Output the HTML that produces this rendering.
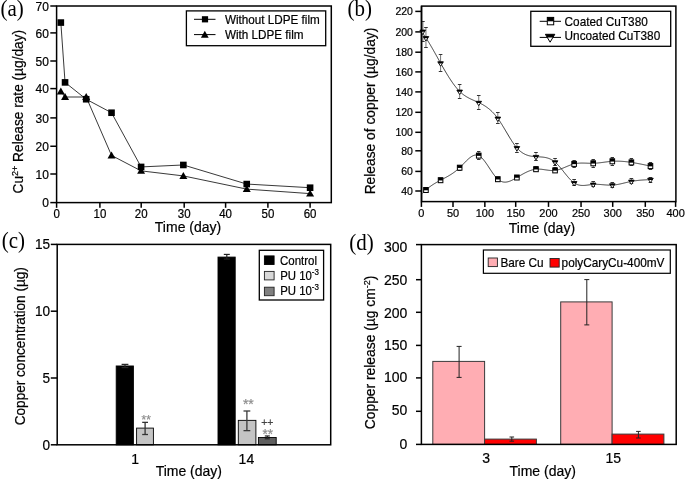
<!DOCTYPE html>
<html><head><meta charset="utf-8"><style>
html,body{margin:0;padding:0;background:#fff;}
body{width:685px;height:480px;overflow:hidden;}
svg{display:block;will-change:transform;}
text{font-family:"Liberation Sans",sans-serif;}
</style></head><body>
<svg width="685" height="480" viewBox="0 0 685 480">
<rect width="685" height="480" fill="#fff"/>
<text transform="translate(0.40,15.80) scale(1,1.07)" x="0" y="0" font-size="21" style="font-family:'Liberation Serif',serif">(a)</text>
<rect x="56.60" y="6.00" width="274.70" height="196.60" fill="none" stroke="#000" stroke-width="1.5" />
<line x1="50.30" y1="202.60" x2="56.60" y2="202.60" stroke="#000" stroke-width="1.5" />
<text transform="translate(48.80,207.20) scale(1,1.06)" x="0" y="0" font-size="12" text-anchor="end" font-family="Liberation Sans, sans-serif" fill="#000" stroke="#000" stroke-width="0.2" >0</text>
<line x1="50.30" y1="174.00" x2="56.60" y2="174.00" stroke="#000" stroke-width="1.5" />
<text transform="translate(48.80,178.60) scale(1,1.06)" x="0" y="0" font-size="12" text-anchor="end" font-family="Liberation Sans, sans-serif" fill="#000" stroke="#000" stroke-width="0.2" >10</text>
<line x1="50.30" y1="146.25" x2="56.60" y2="146.25" stroke="#000" stroke-width="1.5" />
<text transform="translate(48.80,150.85) scale(1,1.06)" x="0" y="0" font-size="12" text-anchor="end" font-family="Liberation Sans, sans-serif" fill="#000" stroke="#000" stroke-width="0.2" >20</text>
<line x1="50.30" y1="117.90" x2="56.60" y2="117.90" stroke="#000" stroke-width="1.5" />
<text transform="translate(48.80,122.50) scale(1,1.06)" x="0" y="0" font-size="12" text-anchor="end" font-family="Liberation Sans, sans-serif" fill="#000" stroke="#000" stroke-width="0.2" >30</text>
<line x1="50.30" y1="88.60" x2="56.60" y2="88.60" stroke="#000" stroke-width="1.5" />
<text transform="translate(48.80,93.20) scale(1,1.06)" x="0" y="0" font-size="12" text-anchor="end" font-family="Liberation Sans, sans-serif" fill="#000" stroke="#000" stroke-width="0.2" >40</text>
<line x1="50.30" y1="61.00" x2="56.60" y2="61.00" stroke="#000" stroke-width="1.5" />
<text transform="translate(48.80,65.60) scale(1,1.06)" x="0" y="0" font-size="12" text-anchor="end" font-family="Liberation Sans, sans-serif" fill="#000" stroke="#000" stroke-width="0.2" >50</text>
<line x1="50.30" y1="32.90" x2="56.60" y2="32.90" stroke="#000" stroke-width="1.5" />
<text transform="translate(48.80,37.50) scale(1,1.06)" x="0" y="0" font-size="12" text-anchor="end" font-family="Liberation Sans, sans-serif" fill="#000" stroke="#000" stroke-width="0.2" >60</text>
<line x1="50.30" y1="6.00" x2="56.60" y2="6.00" stroke="#000" stroke-width="1.5" />
<text transform="translate(48.80,10.60) scale(1,1.06)" x="0" y="0" font-size="12" text-anchor="end" font-family="Liberation Sans, sans-serif" fill="#000" stroke="#000" stroke-width="0.2" >70</text>
<line x1="56.60" y1="202.60" x2="56.60" y2="207.80" stroke="#000" stroke-width="1.5" />
<text transform="translate(56.60,217.60) scale(1,1.06)" x="0" y="0" font-size="11.5" text-anchor="middle" font-family="Liberation Sans, sans-serif" fill="#000" stroke="#000" stroke-width="0.2" >0</text>
<line x1="99.90" y1="202.60" x2="99.90" y2="207.80" stroke="#000" stroke-width="1.5" />
<text transform="translate(99.90,217.60) scale(1,1.06)" x="0" y="0" font-size="11.5" text-anchor="middle" font-family="Liberation Sans, sans-serif" fill="#000" stroke="#000" stroke-width="0.2" >10</text>
<line x1="141.20" y1="202.60" x2="141.20" y2="207.80" stroke="#000" stroke-width="1.5" />
<text transform="translate(141.20,217.60) scale(1,1.06)" x="0" y="0" font-size="11.5" text-anchor="middle" font-family="Liberation Sans, sans-serif" fill="#000" stroke="#000" stroke-width="0.2" >20</text>
<line x1="184.20" y1="202.60" x2="184.20" y2="207.80" stroke="#000" stroke-width="1.5" />
<text transform="translate(184.20,217.60) scale(1,1.06)" x="0" y="0" font-size="11.5" text-anchor="middle" font-family="Liberation Sans, sans-serif" fill="#000" stroke="#000" stroke-width="0.2" >30</text>
<line x1="225.60" y1="202.60" x2="225.60" y2="207.80" stroke="#000" stroke-width="1.5" />
<text transform="translate(225.60,217.60) scale(1,1.06)" x="0" y="0" font-size="11.5" text-anchor="middle" font-family="Liberation Sans, sans-serif" fill="#000" stroke="#000" stroke-width="0.2" >40</text>
<line x1="267.90" y1="202.60" x2="267.90" y2="207.80" stroke="#000" stroke-width="1.5" />
<text transform="translate(267.90,217.60) scale(1,1.06)" x="0" y="0" font-size="11.5" text-anchor="middle" font-family="Liberation Sans, sans-serif" fill="#000" stroke="#000" stroke-width="0.2" >50</text>
<line x1="310.10" y1="202.60" x2="310.10" y2="207.80" stroke="#000" stroke-width="1.5" />
<text transform="translate(310.10,217.60) scale(1,1.06)" x="0" y="0" font-size="11.5" text-anchor="middle" font-family="Liberation Sans, sans-serif" fill="#000" stroke="#000" stroke-width="0.2" >60</text>
<text transform="translate(188.00,231.80) scale(1,1.02)" x="0" y="0" font-size="14" text-anchor="middle" font-family="Liberation Sans, sans-serif" fill="#000" stroke="#000" stroke-width="0.2" >Time (day)</text>
<text transform="translate(22.90,111.70) rotate(-90) scale(1,1.06)" x="0" y="0" font-size="13.7" text-anchor="middle" font-family="Liberation Sans, sans-serif" fill="#000" stroke="#000" stroke-width="0.2" >Cu<tspan font-size="9" dy="-5">2+</tspan><tspan dy="5"> Release rate (µg/day)</tspan></text>
<polyline points="60.83,22.57 65.05,82.39 86.18,99.24 111.53,112.73 141.10,166.93 183.35,164.97 246.73,184.06 310.10,187.71" fill="none" stroke="#222" stroke-width="0.9"/>
<polyline points="60.83,91.38 65.05,97.00 86.18,97.00 111.53,155.42 141.10,170.86 183.35,175.92 246.73,189.12 310.10,193.61" fill="none" stroke="#222" stroke-width="0.9"/>
<rect x="57.53" y="19.27" width="6.60" height="6.60" fill="#000" stroke="none" stroke-width="0" />
<rect x="61.75" y="79.09" width="6.60" height="6.60" fill="#000" stroke="none" stroke-width="0" />
<rect x="82.88" y="95.94" width="6.60" height="6.60" fill="#000" stroke="none" stroke-width="0" />
<rect x="108.23" y="109.43" width="6.60" height="6.60" fill="#000" stroke="none" stroke-width="0" />
<rect x="137.80" y="163.63" width="6.60" height="6.60" fill="#000" stroke="none" stroke-width="0" />
<rect x="180.05" y="161.67" width="6.60" height="6.60" fill="#000" stroke="none" stroke-width="0" />
<rect x="243.43" y="180.76" width="6.60" height="6.60" fill="#000" stroke="none" stroke-width="0" />
<rect x="306.80" y="184.41" width="6.60" height="6.60" fill="#000" stroke="none" stroke-width="0" />
<path d="M56.83,94.38 L64.83,94.38 L60.83,87.48 Z" fill="#000"/>
<path d="M61.05,100.00 L69.05,100.00 L65.05,93.10 Z" fill="#000"/>
<path d="M82.18,100.00 L90.18,100.00 L86.18,93.10 Z" fill="#000"/>
<path d="M107.53,158.42 L115.53,158.42 L111.53,151.52 Z" fill="#000"/>
<path d="M137.10,173.86 L145.10,173.86 L141.10,166.96 Z" fill="#000"/>
<path d="M179.35,178.92 L187.35,178.92 L183.35,172.02 Z" fill="#000"/>
<path d="M242.73,192.12 L250.73,192.12 L246.73,185.22 Z" fill="#000"/>
<path d="M306.10,196.61 L314.10,196.61 L310.10,189.71 Z" fill="#000"/>
<rect x="186.40" y="10.90" width="139.30" height="34.80" fill="none" stroke="#000" stroke-width="1.3" />
<line x1="194.00" y1="19.30" x2="215.50" y2="19.30" stroke="#000" stroke-width="1.0" />
<rect x="201.90" y="16.20" width="6.20" height="6.20" fill="#000" stroke="none" stroke-width="0" />
<line x1="194.00" y1="34.60" x2="215.50" y2="34.60" stroke="#000" stroke-width="1.0" />
<path d="M200.90,37.75 L208.70,37.75 L204.80,30.65 Z" fill="#000"/>
<text transform="translate(224.90,23.60) scale(1,1.06)" x="0" y="0" font-size="11.7" text-anchor="start" font-family="Liberation Sans, sans-serif" fill="#000" stroke="#000" stroke-width="0.2" >Without LDPE film</text>
<text transform="translate(224.90,38.90) scale(1,1.06)" x="0" y="0" font-size="11.7" text-anchor="start" font-family="Liberation Sans, sans-serif" fill="#000" stroke="#000" stroke-width="0.2" >With LDPE film</text>
<text transform="translate(347.40,15.80) scale(1,1.07)" x="0" y="0" font-size="21" style="font-family:'Liberation Serif',serif">(b)</text>
<rect x="421.50" y="6.10" width="254.40" height="195.50" fill="none" stroke="#000" stroke-width="1.5" />
<line x1="415.30" y1="191.00" x2="421.50" y2="191.00" stroke="#000" stroke-width="1.5" />
<text transform="translate(412.90,194.70) scale(1,1.06)" x="0" y="0" font-size="10.5" text-anchor="end" font-family="Liberation Sans, sans-serif" fill="#000" stroke="#000" stroke-width="0.2" >40</text>
<line x1="415.30" y1="171.40" x2="421.50" y2="171.40" stroke="#000" stroke-width="1.5" />
<text transform="translate(412.90,175.10) scale(1,1.06)" x="0" y="0" font-size="10.5" text-anchor="end" font-family="Liberation Sans, sans-serif" fill="#000" stroke="#000" stroke-width="0.2" >60</text>
<line x1="415.30" y1="150.80" x2="421.50" y2="150.80" stroke="#000" stroke-width="1.5" />
<text transform="translate(412.90,154.50) scale(1,1.06)" x="0" y="0" font-size="10.5" text-anchor="end" font-family="Liberation Sans, sans-serif" fill="#000" stroke="#000" stroke-width="0.2" >80</text>
<line x1="415.30" y1="132.30" x2="421.50" y2="132.30" stroke="#000" stroke-width="1.5" />
<text transform="translate(412.90,136.00) scale(1,1.06)" x="0" y="0" font-size="10.5" text-anchor="end" font-family="Liberation Sans, sans-serif" fill="#000" stroke="#000" stroke-width="0.2" >100</text>
<line x1="415.30" y1="112.30" x2="421.50" y2="112.30" stroke="#000" stroke-width="1.5" />
<text transform="translate(412.90,116.00) scale(1,1.06)" x="0" y="0" font-size="10.5" text-anchor="end" font-family="Liberation Sans, sans-serif" fill="#000" stroke="#000" stroke-width="0.2" >120</text>
<line x1="415.30" y1="91.90" x2="421.50" y2="91.90" stroke="#000" stroke-width="1.5" />
<text transform="translate(412.90,95.60) scale(1,1.06)" x="0" y="0" font-size="10.5" text-anchor="end" font-family="Liberation Sans, sans-serif" fill="#000" stroke="#000" stroke-width="0.2" >140</text>
<line x1="415.30" y1="71.90" x2="421.50" y2="71.90" stroke="#000" stroke-width="1.5" />
<text transform="translate(412.90,75.60) scale(1,1.06)" x="0" y="0" font-size="10.5" text-anchor="end" font-family="Liberation Sans, sans-serif" fill="#000" stroke="#000" stroke-width="0.2" >160</text>
<line x1="415.30" y1="52.20" x2="421.50" y2="52.20" stroke="#000" stroke-width="1.5" />
<text transform="translate(412.90,55.90) scale(1,1.06)" x="0" y="0" font-size="10.5" text-anchor="end" font-family="Liberation Sans, sans-serif" fill="#000" stroke="#000" stroke-width="0.2" >180</text>
<line x1="415.30" y1="31.90" x2="421.50" y2="31.90" stroke="#000" stroke-width="1.5" />
<text transform="translate(412.90,35.60) scale(1,1.06)" x="0" y="0" font-size="10.5" text-anchor="end" font-family="Liberation Sans, sans-serif" fill="#000" stroke="#000" stroke-width="0.2" >200</text>
<line x1="415.30" y1="11.40" x2="421.50" y2="11.40" stroke="#000" stroke-width="1.5" />
<text transform="translate(412.90,15.10) scale(1,1.06)" x="0" y="0" font-size="10.5" text-anchor="end" font-family="Liberation Sans, sans-serif" fill="#000" stroke="#000" stroke-width="0.2" >220</text>
<line x1="421.40" y1="201.60" x2="421.40" y2="206.90" stroke="#000" stroke-width="1.5" />
<text transform="translate(421.40,217.00) scale(1,1.06)" x="0" y="0" font-size="11" text-anchor="middle" font-family="Liberation Sans, sans-serif" fill="#000" stroke="#000" stroke-width="0.2" >0</text>
<line x1="453.00" y1="201.60" x2="453.00" y2="206.90" stroke="#000" stroke-width="1.5" />
<text transform="translate(453.00,217.00) scale(1,1.06)" x="0" y="0" font-size="11" text-anchor="middle" font-family="Liberation Sans, sans-serif" fill="#000" stroke="#000" stroke-width="0.2" >50</text>
<line x1="484.85" y1="201.60" x2="484.85" y2="206.90" stroke="#000" stroke-width="1.5" />
<text transform="translate(484.85,217.00) scale(1,1.06)" x="0" y="0" font-size="11" text-anchor="middle" font-family="Liberation Sans, sans-serif" fill="#000" stroke="#000" stroke-width="0.2" >100</text>
<line x1="515.70" y1="201.60" x2="515.70" y2="206.90" stroke="#000" stroke-width="1.5" />
<text transform="translate(515.70,217.00) scale(1,1.06)" x="0" y="0" font-size="11" text-anchor="middle" font-family="Liberation Sans, sans-serif" fill="#000" stroke="#000" stroke-width="0.2" >150</text>
<line x1="548.50" y1="201.60" x2="548.50" y2="206.90" stroke="#000" stroke-width="1.5" />
<text transform="translate(548.50,217.00) scale(1,1.06)" x="0" y="0" font-size="11" text-anchor="middle" font-family="Liberation Sans, sans-serif" fill="#000" stroke="#000" stroke-width="0.2" >200</text>
<line x1="581.05" y1="201.60" x2="581.05" y2="206.90" stroke="#000" stroke-width="1.5" />
<text transform="translate(581.05,217.00) scale(1,1.06)" x="0" y="0" font-size="11" text-anchor="middle" font-family="Liberation Sans, sans-serif" fill="#000" stroke="#000" stroke-width="0.2" >250</text>
<line x1="612.70" y1="201.60" x2="612.70" y2="206.90" stroke="#000" stroke-width="1.5" />
<text transform="translate(612.70,217.00) scale(1,1.06)" x="0" y="0" font-size="11" text-anchor="middle" font-family="Liberation Sans, sans-serif" fill="#000" stroke="#000" stroke-width="0.2" >300</text>
<line x1="645.30" y1="201.60" x2="645.30" y2="206.90" stroke="#000" stroke-width="1.5" />
<text transform="translate(645.30,217.00) scale(1,1.06)" x="0" y="0" font-size="11" text-anchor="middle" font-family="Liberation Sans, sans-serif" fill="#000" stroke="#000" stroke-width="0.2" >350</text>
<line x1="675.60" y1="201.60" x2="675.60" y2="206.90" stroke="#000" stroke-width="1.5" />
<text transform="translate(675.60,217.00) scale(1,1.06)" x="0" y="0" font-size="11" text-anchor="middle" font-family="Liberation Sans, sans-serif" fill="#000" stroke="#000" stroke-width="0.2" >400</text>
<text transform="translate(541.90,233.00) scale(1,1.02)" x="0" y="0" font-size="14" text-anchor="middle" font-family="Liberation Sans, sans-serif" fill="#000" stroke="#000" stroke-width="0.2" >Time (day)</text>
<text transform="translate(375.00,111.00) rotate(-90) scale(1,1.06)" x="0" y="0" font-size="13.8" text-anchor="middle" font-family="Liberation Sans, sans-serif" fill="#000" stroke="#000" stroke-width="0.2" >Release of copper (µg/day)</text>
<path d="M422.45,193.42 L423.03,192.84 L423.60,192.27 L424.17,191.70 L424.74,191.14 L425.31,190.60 L425.88,190.06 L426.45,189.55 L427.03,189.04 L427.60,188.56 L428.17,188.08 L428.74,187.62 L429.31,187.17 L429.88,186.74 L430.45,186.32 L431.03,185.91 L431.60,185.50 L432.17,185.11 L432.74,184.73 L433.31,184.36 L433.88,184.00 L434.45,183.65 L435.03,183.30 L435.60,182.96 L436.17,182.62 L436.74,182.30 L437.31,181.97 L437.88,181.65 L438.45,181.34 L439.03,181.03 L439.60,180.72 L440.17,180.42 L440.74,180.12 L441.31,179.81 L441.88,179.51 L442.45,179.21 L443.03,178.91 L443.60,178.61 L444.17,178.31 L444.74,178.00 L445.31,177.70 L445.88,177.39 L446.45,177.08 L447.03,176.76 L447.60,176.44 L448.17,176.11 L448.74,175.78 L449.31,175.44 L449.88,175.10 L450.45,174.75 L451.03,174.39 L451.60,174.03 L452.17,173.65 L452.74,173.27 L453.31,172.87 L453.88,172.47 L454.45,172.06 L455.03,171.63 L455.60,171.19 L456.17,170.74 L456.74,170.28 L457.31,169.80 L457.88,169.32 L458.45,168.81 L459.03,168.29 L459.60,167.76 L460.17,167.21 L460.74,166.65 L461.31,166.07 L461.88,165.49 L462.46,164.90 L463.03,164.30 L463.60,163.71 L464.17,163.11 L464.74,162.52 L465.31,161.93 L465.88,161.35 L466.46,160.78 L467.03,160.23 L467.60,159.68 L468.17,159.16 L468.74,158.66 L469.31,158.17 L469.88,157.72 L470.46,157.29 L471.03,156.89 L471.60,156.52 L472.17,156.19 L472.74,155.89 L473.31,155.63 L473.88,155.42 L474.46,155.24 L475.03,155.12 L475.60,155.04 L476.17,155.02 L476.74,155.04 L477.31,155.13 L477.88,155.27 L478.46,155.48 L479.03,155.74 L479.60,156.07 L480.17,156.46 L480.74,156.91 L481.31,157.40 L481.88,157.95 L482.46,158.54 L483.03,159.18 L483.60,159.85 L484.17,160.56 L484.74,161.30 L485.31,162.07 L485.88,162.86 L486.46,163.68 L487.03,164.51 L487.60,165.36 L488.17,166.22 L488.74,167.09 L489.31,167.96 L489.88,168.83 L490.46,169.71 L491.03,170.57 L491.60,171.43 L492.17,172.27 L492.74,173.10 L493.31,173.91 L493.88,174.69 L494.46,175.45 L495.03,176.18 L495.60,176.88 L496.17,177.53 L496.74,178.15 L497.31,178.73 L497.88,179.26 L498.46,179.74 L499.03,180.17 L499.60,180.55 L500.17,180.89 L500.74,181.19 L501.31,181.44 L501.88,181.65 L502.46,181.82 L503.03,181.95 L503.60,182.05 L504.17,182.11 L504.74,182.14 L505.31,182.14 L505.88,182.11 L506.46,182.04 L507.03,181.95 L507.60,181.83 L508.17,181.69 L508.74,181.53 L509.31,181.34 L509.88,181.13 L510.46,180.91 L511.03,180.66 L511.60,180.40 L512.17,180.13 L512.74,179.84 L513.31,179.54 L513.88,179.23 L514.46,178.92 L515.03,178.59 L515.60,178.26 L516.17,177.93 L516.74,177.59 L517.31,177.26 L517.89,176.92 L518.46,176.58 L519.03,176.24 L519.60,175.91 L520.17,175.57 L520.74,175.24 L521.31,174.91 L521.89,174.59 L522.46,174.26 L523.03,173.95 L523.60,173.64 L524.17,173.33 L524.74,173.03 L525.31,172.74 L525.89,172.45 L526.46,172.17 L527.03,171.90 L527.60,171.64 L528.17,171.39 L528.74,171.15 L529.31,170.92 L529.89,170.70 L530.46,170.49 L531.03,170.30 L531.60,170.12 L532.17,169.95 L532.74,169.79 L533.31,169.65 L533.89,169.52 L534.46,169.41 L535.03,169.32 L535.60,169.24 L536.17,169.18 L536.74,169.14 L537.31,169.11 L537.89,169.10 L538.46,169.10 L539.03,169.12 L539.60,169.14 L540.17,169.18 L540.74,169.23 L541.31,169.28 L541.89,169.34 L542.46,169.41 L543.03,169.49 L543.60,169.57 L544.17,169.65 L544.74,169.74 L545.31,169.82 L545.89,169.91 L546.46,169.99 L547.03,170.07 L547.60,170.15 L548.17,170.23 L548.74,170.30 L549.31,170.36 L549.89,170.42 L550.46,170.46 L551.03,170.50 L551.60,170.53 L552.17,170.54 L552.74,170.55 L553.31,170.53 L553.89,170.51 L554.46,170.46 L555.03,170.40 L555.60,170.33 L556.17,170.23 L556.74,170.12 L557.31,169.99 L557.89,169.85 L558.46,169.69 L559.03,169.53 L559.60,169.35 L560.17,169.16 L560.74,168.96 L561.31,168.75 L561.89,168.53 L562.46,168.31 L563.03,168.08 L563.60,167.85 L564.17,167.61 L564.74,167.38 L565.31,167.13 L565.89,166.89 L566.46,166.65 L567.03,166.41 L567.60,166.17 L568.17,165.94 L568.74,165.70 L569.32,165.48 L569.89,165.26 L570.46,165.04 L571.03,164.84 L571.60,164.64 L572.17,164.45 L572.74,164.28 L573.32,164.11 L573.89,163.96 L574.46,163.83 L575.03,163.70 L575.60,163.59 L576.17,163.49 L576.74,163.41 L577.32,163.33 L577.89,163.27 L578.46,163.21 L579.03,163.17 L579.60,163.13 L580.17,163.11 L580.74,163.09 L581.32,163.07 L581.89,163.07 L582.46,163.07 L583.03,163.07 L583.60,163.08 L584.17,163.09 L584.74,163.11 L585.32,163.13 L585.89,163.15 L586.46,163.17 L587.03,163.19 L587.60,163.21 L588.17,163.23 L588.74,163.25 L589.32,163.27 L589.89,163.29 L590.46,163.30 L591.03,163.31 L591.60,163.32 L592.17,163.32 L592.74,163.31 L593.32,163.30 L593.89,163.28 L594.46,163.25 L595.03,163.22 L595.60,163.19 L596.17,163.14 L596.74,163.10 L597.32,163.05 L597.89,162.99 L598.46,162.93 L599.03,162.87 L599.60,162.80 L600.17,162.73 L600.74,162.66 L601.32,162.59 L601.89,162.52 L602.46,162.44 L603.03,162.36 L603.60,162.29 L604.17,162.21 L604.74,162.13 L605.32,162.06 L605.89,161.98 L606.46,161.91 L607.03,161.83 L607.60,161.76 L608.17,161.69 L608.74,161.63 L609.32,161.56 L609.89,161.50 L610.46,161.45 L611.03,161.40 L611.60,161.35 L612.17,161.31 L612.74,161.27 L613.32,161.24 L613.89,161.21 L614.46,161.19 L615.03,161.18 L615.60,161.16 L616.17,161.16 L616.74,161.16 L617.32,161.16 L617.89,161.16 L618.46,161.18 L619.03,161.19 L619.60,161.21 L620.17,161.24 L620.74,161.26 L621.32,161.30 L621.89,161.33 L622.46,161.37 L623.03,161.41 L623.60,161.46 L624.17,161.51 L624.75,161.56 L625.32,161.62 L625.89,161.68 L626.46,161.74 L627.03,161.81 L627.60,161.88 L628.17,161.95 L628.75,162.02 L629.32,162.10 L629.89,162.18 L630.46,162.26 L631.03,162.35 L631.60,162.43 L632.17,162.52 L632.75,162.61 L633.32,162.71 L633.89,162.80 L634.46,162.90 L635.03,163.00 L635.60,163.10 L636.17,163.20 L636.75,163.30 L637.32,163.41 L637.89,163.51 L638.46,163.62 L639.03,163.73 L639.60,163.84 L640.17,163.95 L640.75,164.06 L641.32,164.18 L641.89,164.29 L642.46,164.41 L643.03,164.53 L643.60,164.64 L644.17,164.76 L644.75,164.88 L645.32,165.00 L645.89,165.12 L646.46,165.24 L647.03,165.37 L647.60,165.49 L648.17,165.61 L648.75,165.73 L649.32,165.85 L649.89,165.98 L650.46,166.10" fill="none" stroke="#222" stroke-width="0.9"/>
<path d="M421.50,31.40 L422.07,32.22 L422.65,33.04 L423.22,33.86 L423.80,34.69 L424.37,35.53 L424.94,36.38 L425.52,37.24 L426.09,38.11 L426.66,39.00 L427.24,39.90 L427.81,40.82 L428.39,41.74 L428.96,42.68 L429.53,43.63 L430.11,44.59 L430.68,45.56 L431.26,46.54 L431.83,47.53 L432.40,48.53 L432.98,49.53 L433.55,50.54 L434.12,51.55 L434.70,52.57 L435.27,53.59 L435.85,54.62 L436.42,55.64 L436.99,56.67 L437.57,57.70 L438.14,58.73 L438.72,59.76 L439.29,60.79 L439.86,61.82 L440.44,62.84 L441.01,63.87 L441.58,64.88 L442.16,65.90 L442.73,66.90 L443.31,67.90 L443.88,68.90 L444.45,69.89 L445.03,70.87 L445.60,71.84 L446.17,72.80 L446.75,73.76 L447.32,74.70 L447.90,75.63 L448.47,76.56 L449.04,77.47 L449.62,78.36 L450.19,79.25 L450.77,80.12 L451.34,80.97 L451.91,81.81 L452.49,82.64 L453.06,83.45 L453.63,84.24 L454.21,85.02 L454.78,85.77 L455.36,86.51 L455.93,87.23 L456.50,87.93 L457.08,88.61 L457.65,89.27 L458.23,89.91 L458.80,90.52 L459.37,91.11 L459.95,91.68 L460.52,92.23 L461.09,92.75 L461.67,93.25 L462.24,93.73 L462.82,94.19 L463.39,94.63 L463.96,95.05 L464.54,95.46 L465.11,95.85 L465.69,96.23 L466.26,96.59 L466.83,96.93 L467.41,97.27 L467.98,97.59 L468.55,97.90 L469.13,98.20 L469.70,98.50 L470.28,98.78 L470.85,99.06 L471.42,99.33 L472.00,99.59 L472.57,99.85 L473.15,100.11 L473.72,100.36 L474.29,100.62 L474.87,100.87 L475.44,101.12 L476.01,101.37 L476.59,101.62 L477.16,101.88 L477.74,102.14 L478.31,102.40 L478.88,102.67 L479.46,102.94 L480.03,103.22 L480.60,103.51 L481.18,103.81 L481.75,104.11 L482.33,104.42 L482.90,104.74 L483.47,105.08 L484.05,105.42 L484.62,105.77 L485.20,106.14 L485.77,106.52 L486.34,106.91 L486.92,107.32 L487.49,107.74 L488.06,108.17 L488.64,108.62 L489.21,109.09 L489.79,109.57 L490.36,110.07 L490.93,110.59 L491.51,111.12 L492.08,111.68 L492.66,112.25 L493.23,112.85 L493.80,113.46 L494.38,114.10 L494.95,114.76 L495.52,115.44 L496.10,116.14 L496.67,116.87 L497.25,117.62 L497.82,118.40 L498.39,119.20 L498.97,120.03 L499.54,120.88 L500.12,121.75 L500.69,122.63 L501.26,123.54 L501.84,124.45 L502.41,125.38 L502.98,126.33 L503.56,127.28 L504.13,128.24 L504.71,129.21 L505.28,130.18 L505.85,131.15 L506.43,132.12 L507.00,133.09 L507.58,134.06 L508.15,135.03 L508.72,135.99 L509.30,136.94 L509.87,137.88 L510.44,138.80 L511.02,139.72 L511.59,140.62 L512.17,141.50 L512.74,142.36 L513.31,143.21 L513.89,144.03 L514.46,144.83 L515.04,145.60 L515.61,146.34 L516.18,147.05 L516.76,147.73 L517.33,148.38 L517.90,149.00 L518.48,149.59 L519.05,150.14 L519.63,150.66 L520.20,151.16 L520.77,151.62 L521.35,152.06 L521.92,152.47 L522.49,152.86 L523.07,153.22 L523.64,153.56 L524.22,153.87 L524.79,154.16 L525.36,154.44 L525.94,154.69 L526.51,154.92 L527.09,155.13 L527.66,155.32 L528.23,155.50 L528.81,155.66 L529.38,155.81 L529.95,155.94 L530.53,156.06 L531.10,156.17 L531.68,156.26 L532.25,156.35 L532.82,156.42 L533.40,156.49 L533.97,156.55 L534.55,156.60 L535.12,156.64 L535.69,156.68 L536.27,156.72 L536.84,156.75 L537.41,156.78 L537.99,156.80 L538.56,156.83 L539.14,156.86 L539.71,156.89 L540.28,156.92 L540.86,156.96 L541.43,157.00 L542.01,157.05 L542.58,157.10 L543.15,157.17 L543.73,157.24 L544.30,157.32 L544.87,157.41 L545.45,157.52 L546.02,157.64 L546.60,157.77 L547.17,157.92 L547.74,158.09 L548.32,158.27 L548.89,158.47 L549.47,158.69 L550.04,158.93 L550.61,159.20 L551.19,159.48 L551.76,159.80 L552.33,160.13 L552.91,160.49 L553.48,160.88 L554.06,161.30 L554.63,161.75 L555.20,162.22 L555.78,162.73 L556.35,163.26 L556.92,163.83 L557.50,164.41 L558.07,165.02 L558.65,165.65 L559.22,166.30 L559.79,166.96 L560.37,167.64 L560.94,168.33 L561.52,169.03 L562.09,169.74 L562.66,170.45 L563.24,171.17 L563.81,171.89 L564.38,172.61 L564.96,173.33 L565.53,174.05 L566.11,174.75 L566.68,175.46 L567.25,176.15 L567.83,176.82 L568.40,177.49 L568.98,178.14 L569.55,178.77 L570.12,179.37 L570.70,179.96 L571.27,180.52 L571.84,181.06 L572.42,181.57 L572.99,182.05 L573.57,182.49 L574.14,182.90 L574.71,183.27 L575.29,183.61 L575.86,183.92 L576.44,184.19 L577.01,184.43 L577.58,184.65 L578.16,184.83 L578.73,184.99 L579.30,185.12 L579.88,185.23 L580.45,185.32 L581.03,185.38 L581.60,185.43 L582.17,185.45 L582.75,185.46 L583.32,185.46 L583.90,185.44 L584.47,185.41 L585.04,185.37 L585.62,185.32 L586.19,185.26 L586.76,185.19 L587.34,185.12 L587.91,185.04 L588.49,184.96 L589.06,184.88 L589.63,184.80 L590.21,184.73 L590.78,184.65 L591.36,184.58 L591.93,184.52 L592.50,184.46 L593.08,184.41 L593.65,184.37 L594.22,184.34 L594.80,184.33 L595.37,184.32 L595.95,184.31 L596.52,184.32 L597.09,184.33 L597.67,184.35 L598.24,184.38 L598.81,184.41 L599.39,184.44 L599.96,184.48 L600.54,184.52 L601.11,184.57 L601.68,184.61 L602.26,184.66 L602.83,184.71 L603.41,184.76 L603.98,184.81 L604.55,184.86 L605.13,184.90 L605.70,184.95 L606.27,184.99 L606.85,185.03 L607.42,185.06 L608.00,185.09 L608.57,185.11 L609.14,185.13 L609.72,185.14 L610.29,185.15 L610.87,185.15 L611.44,185.13 L612.01,185.11 L612.59,185.08 L613.16,185.04 L613.73,185.00 L614.31,184.94 L614.88,184.87 L615.46,184.80 L616.03,184.72 L616.60,184.63 L617.18,184.54 L617.75,184.43 L618.33,184.33 L618.90,184.22 L619.47,184.10 L620.05,183.98 L620.62,183.86 L621.19,183.73 L621.77,183.60 L622.34,183.47 L622.92,183.33 L623.49,183.20 L624.06,183.06 L624.64,182.92 L625.21,182.78 L625.79,182.64 L626.36,182.51 L626.93,182.37 L627.51,182.23 L628.08,182.10 L628.65,181.97 L629.23,181.84 L629.80,181.72 L630.38,181.60 L630.95,181.48 L631.52,181.37 L632.10,181.27 L632.67,181.16 L633.24,181.07 L633.82,180.98 L634.39,180.89 L634.97,180.80 L635.54,180.73 L636.11,180.65 L636.69,180.58 L637.26,180.51 L637.84,180.45 L638.41,180.38 L638.98,180.33 L639.56,180.27 L640.13,180.22 L640.70,180.17 L641.28,180.12 L641.85,180.08 L642.43,180.04 L643.00,180.00 L643.57,179.96 L644.15,179.92 L644.72,179.89 L645.30,179.85 L645.87,179.82 L646.44,179.79 L647.02,179.76 L647.59,179.73 L648.16,179.71 L648.74,179.68 L649.31,179.65 L649.89,179.63 L650.46,179.60" fill="none" stroke="#222" stroke-width="0.9"/>
<line x1="425.95" y1="188.50" x2="425.95" y2="192.50" stroke="#777" stroke-width="1.0" />
<line x1="424.25" y1="188.50" x2="427.65" y2="188.50" stroke="#333" stroke-width="1.0" />
<line x1="424.25" y1="192.50" x2="427.65" y2="192.50" stroke="#333" stroke-width="1.0" />
<line x1="440.58" y1="178.50" x2="440.58" y2="182.50" stroke="#777" stroke-width="1.0" />
<line x1="438.88" y1="178.50" x2="442.28" y2="178.50" stroke="#333" stroke-width="1.0" />
<line x1="438.88" y1="182.50" x2="442.28" y2="182.50" stroke="#333" stroke-width="1.0" />
<line x1="459.66" y1="165.50" x2="459.66" y2="170.50" stroke="#777" stroke-width="1.0" />
<line x1="457.96" y1="165.50" x2="461.36" y2="165.50" stroke="#333" stroke-width="1.0" />
<line x1="457.96" y1="170.50" x2="461.36" y2="170.50" stroke="#333" stroke-width="1.0" />
<line x1="478.74" y1="151.50" x2="478.74" y2="159.50" stroke="#777" stroke-width="1.0" />
<line x1="477.04" y1="151.50" x2="480.44" y2="151.50" stroke="#333" stroke-width="1.0" />
<line x1="477.04" y1="159.50" x2="480.44" y2="159.50" stroke="#333" stroke-width="1.0" />
<line x1="497.82" y1="177.50" x2="497.82" y2="181.50" stroke="#777" stroke-width="1.0" />
<line x1="496.12" y1="177.50" x2="499.52" y2="177.50" stroke="#333" stroke-width="1.0" />
<line x1="496.12" y1="181.50" x2="499.52" y2="181.50" stroke="#333" stroke-width="1.0" />
<line x1="516.90" y1="175.50" x2="516.90" y2="179.50" stroke="#777" stroke-width="1.0" />
<line x1="515.20" y1="175.50" x2="518.60" y2="175.50" stroke="#333" stroke-width="1.0" />
<line x1="515.20" y1="179.50" x2="518.60" y2="179.50" stroke="#333" stroke-width="1.0" />
<line x1="535.98" y1="166.50" x2="535.98" y2="171.50" stroke="#777" stroke-width="1.0" />
<line x1="534.28" y1="166.50" x2="537.68" y2="166.50" stroke="#333" stroke-width="1.0" />
<line x1="534.28" y1="171.50" x2="537.68" y2="171.50" stroke="#333" stroke-width="1.0" />
<line x1="555.06" y1="167.50" x2="555.06" y2="172.50" stroke="#777" stroke-width="1.0" />
<line x1="553.36" y1="167.50" x2="556.76" y2="167.50" stroke="#333" stroke-width="1.0" />
<line x1="553.36" y1="172.50" x2="556.76" y2="172.50" stroke="#333" stroke-width="1.0" />
<line x1="574.14" y1="160.50" x2="574.14" y2="167.50" stroke="#777" stroke-width="1.0" />
<line x1="572.44" y1="160.50" x2="575.84" y2="160.50" stroke="#333" stroke-width="1.0" />
<line x1="572.44" y1="167.50" x2="575.84" y2="167.50" stroke="#333" stroke-width="1.0" />
<line x1="593.22" y1="159.50" x2="593.22" y2="167.50" stroke="#777" stroke-width="1.0" />
<line x1="591.52" y1="159.50" x2="594.92" y2="159.50" stroke="#333" stroke-width="1.0" />
<line x1="591.52" y1="167.50" x2="594.92" y2="167.50" stroke="#333" stroke-width="1.0" />
<line x1="612.30" y1="157.50" x2="612.30" y2="165.50" stroke="#777" stroke-width="1.0" />
<line x1="610.60" y1="157.50" x2="614.00" y2="157.50" stroke="#333" stroke-width="1.0" />
<line x1="610.60" y1="165.50" x2="614.00" y2="165.50" stroke="#333" stroke-width="1.0" />
<line x1="631.38" y1="158.50" x2="631.38" y2="165.50" stroke="#777" stroke-width="1.0" />
<line x1="629.68" y1="158.50" x2="633.08" y2="158.50" stroke="#333" stroke-width="1.0" />
<line x1="629.68" y1="165.50" x2="633.08" y2="165.50" stroke="#333" stroke-width="1.0" />
<line x1="650.46" y1="162.50" x2="650.46" y2="169.50" stroke="#777" stroke-width="1.0" />
<line x1="648.76" y1="162.50" x2="652.16" y2="162.50" stroke="#333" stroke-width="1.0" />
<line x1="648.76" y1="169.50" x2="652.16" y2="169.50" stroke="#333" stroke-width="1.0" />
<line x1="422.90" y1="21.50" x2="422.90" y2="41.50" stroke="#777" stroke-width="1.0" />
<line x1="421.10" y1="21.50" x2="424.70" y2="21.50" stroke="#333" stroke-width="1.0" />
<line x1="421.10" y1="41.50" x2="424.70" y2="41.50" stroke="#333" stroke-width="1.0" />
<line x1="425.95" y1="27.50" x2="425.95" y2="47.50" stroke="#777" stroke-width="1.0" />
<line x1="424.15" y1="27.50" x2="427.75" y2="27.50" stroke="#333" stroke-width="1.0" />
<line x1="424.15" y1="47.50" x2="427.75" y2="47.50" stroke="#333" stroke-width="1.0" />
<line x1="440.58" y1="54.50" x2="440.58" y2="71.50" stroke="#777" stroke-width="1.0" />
<line x1="438.78" y1="54.50" x2="442.38" y2="54.50" stroke="#333" stroke-width="1.0" />
<line x1="438.78" y1="71.50" x2="442.38" y2="71.50" stroke="#333" stroke-width="1.0" />
<line x1="459.66" y1="84.50" x2="459.66" y2="98.50" stroke="#777" stroke-width="1.0" />
<line x1="457.86" y1="84.50" x2="461.46" y2="84.50" stroke="#333" stroke-width="1.0" />
<line x1="457.86" y1="98.50" x2="461.46" y2="98.50" stroke="#333" stroke-width="1.0" />
<line x1="478.74" y1="95.50" x2="478.74" y2="109.50" stroke="#777" stroke-width="1.0" />
<line x1="476.94" y1="95.50" x2="480.54" y2="95.50" stroke="#333" stroke-width="1.0" />
<line x1="476.94" y1="109.50" x2="480.54" y2="109.50" stroke="#333" stroke-width="1.0" />
<line x1="497.82" y1="112.50" x2="497.82" y2="123.50" stroke="#777" stroke-width="1.0" />
<line x1="496.02" y1="112.50" x2="499.62" y2="112.50" stroke="#333" stroke-width="1.0" />
<line x1="496.02" y1="123.50" x2="499.62" y2="123.50" stroke="#333" stroke-width="1.0" />
<line x1="516.90" y1="143.50" x2="516.90" y2="152.50" stroke="#777" stroke-width="1.0" />
<line x1="515.10" y1="143.50" x2="518.70" y2="143.50" stroke="#333" stroke-width="1.0" />
<line x1="515.10" y1="152.50" x2="518.70" y2="152.50" stroke="#333" stroke-width="1.0" />
<line x1="535.98" y1="152.50" x2="535.98" y2="160.50" stroke="#777" stroke-width="1.0" />
<line x1="534.18" y1="152.50" x2="537.78" y2="152.50" stroke="#333" stroke-width="1.0" />
<line x1="534.18" y1="160.50" x2="537.78" y2="160.50" stroke="#333" stroke-width="1.0" />
<line x1="555.06" y1="158.50" x2="555.06" y2="165.50" stroke="#777" stroke-width="1.0" />
<line x1="553.26" y1="158.50" x2="556.86" y2="158.50" stroke="#333" stroke-width="1.0" />
<line x1="553.26" y1="165.50" x2="556.86" y2="165.50" stroke="#333" stroke-width="1.0" />
<line x1="574.14" y1="179.50" x2="574.14" y2="185.50" stroke="#777" stroke-width="1.0" />
<line x1="572.34" y1="179.50" x2="575.94" y2="179.50" stroke="#333" stroke-width="1.0" />
<line x1="572.34" y1="185.50" x2="575.94" y2="185.50" stroke="#333" stroke-width="1.0" />
<line x1="593.22" y1="181.50" x2="593.22" y2="186.50" stroke="#777" stroke-width="1.0" />
<line x1="591.42" y1="181.50" x2="595.02" y2="181.50" stroke="#333" stroke-width="1.0" />
<line x1="591.42" y1="186.50" x2="595.02" y2="186.50" stroke="#333" stroke-width="1.0" />
<line x1="612.30" y1="182.50" x2="612.30" y2="187.50" stroke="#777" stroke-width="1.0" />
<line x1="610.50" y1="182.50" x2="614.10" y2="182.50" stroke="#333" stroke-width="1.0" />
<line x1="610.50" y1="187.50" x2="614.10" y2="187.50" stroke="#333" stroke-width="1.0" />
<line x1="631.38" y1="178.50" x2="631.38" y2="183.50" stroke="#777" stroke-width="1.0" />
<line x1="629.58" y1="178.50" x2="633.18" y2="178.50" stroke="#333" stroke-width="1.0" />
<line x1="629.58" y1="183.50" x2="633.18" y2="183.50" stroke="#333" stroke-width="1.0" />
<line x1="650.46" y1="177.50" x2="650.46" y2="182.50" stroke="#777" stroke-width="1.0" />
<line x1="648.66" y1="177.50" x2="652.26" y2="177.50" stroke="#333" stroke-width="1.0" />
<line x1="648.66" y1="182.50" x2="652.26" y2="182.50" stroke="#333" stroke-width="1.0" />
<rect x="423.65" y="187.50" width="4.60" height="5.00" fill="#fff" stroke="#000" stroke-width="1.0"/>
<rect x="423.65" y="187.50" width="4.60" height="2.75" fill="#000"/>
<rect x="438.28" y="177.70" width="4.60" height="5.00" fill="#fff" stroke="#000" stroke-width="1.0"/>
<rect x="438.28" y="177.70" width="4.60" height="2.75" fill="#000"/>
<rect x="457.36" y="165.20" width="4.60" height="5.00" fill="#fff" stroke="#000" stroke-width="1.0"/>
<rect x="457.36" y="165.20" width="4.60" height="2.75" fill="#000"/>
<rect x="476.44" y="153.10" width="4.60" height="5.00" fill="#fff" stroke="#000" stroke-width="1.0"/>
<rect x="476.44" y="153.10" width="4.60" height="2.75" fill="#000"/>
<rect x="495.52" y="176.70" width="4.60" height="5.00" fill="#fff" stroke="#000" stroke-width="1.0"/>
<rect x="495.52" y="176.70" width="4.60" height="2.75" fill="#000"/>
<rect x="514.60" y="175.00" width="4.60" height="5.00" fill="#fff" stroke="#000" stroke-width="1.0"/>
<rect x="514.60" y="175.00" width="4.60" height="2.75" fill="#000"/>
<rect x="533.68" y="166.70" width="4.60" height="5.00" fill="#fff" stroke="#000" stroke-width="1.0"/>
<rect x="533.68" y="166.70" width="4.60" height="2.75" fill="#000"/>
<rect x="552.76" y="167.90" width="4.60" height="5.00" fill="#fff" stroke="#000" stroke-width="1.0"/>
<rect x="552.76" y="167.90" width="4.60" height="2.75" fill="#000"/>
<rect x="571.84" y="161.40" width="4.60" height="5.00" fill="#fff" stroke="#000" stroke-width="1.0"/>
<rect x="571.84" y="161.40" width="4.60" height="2.75" fill="#000"/>
<rect x="590.92" y="160.80" width="4.60" height="5.00" fill="#fff" stroke="#000" stroke-width="1.0"/>
<rect x="590.92" y="160.80" width="4.60" height="2.75" fill="#000"/>
<rect x="610.00" y="158.80" width="4.60" height="5.00" fill="#fff" stroke="#000" stroke-width="1.0"/>
<rect x="610.00" y="158.80" width="4.60" height="2.75" fill="#000"/>
<rect x="629.08" y="159.90" width="4.60" height="5.00" fill="#fff" stroke="#000" stroke-width="1.0"/>
<rect x="629.08" y="159.90" width="4.60" height="2.75" fill="#000"/>
<rect x="648.16" y="163.60" width="4.60" height="5.00" fill="#fff" stroke="#000" stroke-width="1.0"/>
<rect x="648.16" y="163.60" width="4.60" height="2.75" fill="#000"/>
<path d="M419.90,30.10 L425.50,30.10 L422.70,34.50 Z" fill="#fff" stroke="#000" stroke-width="0.9" stroke-linejoin="round"/>
<path d="M419.90,30.10 L425.50,30.10 L424.38,31.86 L421.02,31.86 Z" fill="#000"/>
<path d="M423.15,36.60 L428.75,36.60 L425.95,41.00 Z" fill="#fff" stroke="#000" stroke-width="0.9" stroke-linejoin="round"/>
<path d="M423.15,36.60 L428.75,36.60 L427.63,38.36 L424.27,38.36 Z" fill="#000"/>
<path d="M437.78,61.80 L443.38,61.80 L440.58,66.20 Z" fill="#fff" stroke="#000" stroke-width="0.9" stroke-linejoin="round"/>
<path d="M437.78,61.80 L443.38,61.80 L442.26,63.56 L438.90,63.56 Z" fill="#000"/>
<path d="M456.86,90.10 L462.46,90.10 L459.66,94.50 Z" fill="#fff" stroke="#000" stroke-width="0.9" stroke-linejoin="round"/>
<path d="M456.86,90.10 L462.46,90.10 L461.34,91.86 L457.98,91.86 Z" fill="#000"/>
<path d="M475.94,101.30 L481.54,101.30 L478.74,105.70 Z" fill="#fff" stroke="#000" stroke-width="0.9" stroke-linejoin="round"/>
<path d="M475.94,101.30 L481.54,101.30 L480.42,103.06 L477.06,103.06 Z" fill="#000"/>
<path d="M495.02,117.10 L500.62,117.10 L497.82,121.50 Z" fill="#fff" stroke="#000" stroke-width="0.9" stroke-linejoin="round"/>
<path d="M495.02,117.10 L500.62,117.10 L499.50,118.86 L496.14,118.86 Z" fill="#000"/>
<path d="M514.10,146.60 L519.70,146.60 L516.90,151.00 Z" fill="#fff" stroke="#000" stroke-width="0.9" stroke-linejoin="round"/>
<path d="M514.10,146.60 L519.70,146.60 L518.58,148.36 L515.22,148.36 Z" fill="#000"/>
<path d="M533.18,155.40 L538.78,155.40 L535.98,159.80 Z" fill="#fff" stroke="#000" stroke-width="0.9" stroke-linejoin="round"/>
<path d="M533.18,155.40 L538.78,155.40 L537.66,157.16 L534.30,157.16 Z" fill="#000"/>
<path d="M552.26,160.80 L557.86,160.80 L555.06,165.20 Z" fill="#fff" stroke="#000" stroke-width="0.9" stroke-linejoin="round"/>
<path d="M552.26,160.80 L557.86,160.80 L556.74,162.56 L553.38,162.56 Z" fill="#000"/>
<path d="M571.34,181.60 L576.94,181.60 L574.14,186.00 Z" fill="#fff" stroke="#000" stroke-width="0.9" stroke-linejoin="round"/>
<path d="M571.34,181.60 L576.94,181.60 L575.82,183.36 L572.46,183.36 Z" fill="#000"/>
<path d="M590.42,183.10 L596.02,183.10 L593.22,187.50 Z" fill="#fff" stroke="#000" stroke-width="0.9" stroke-linejoin="round"/>
<path d="M590.42,183.10 L596.02,183.10 L594.90,184.86 L591.54,184.86 Z" fill="#000"/>
<path d="M609.50,183.80 L615.10,183.80 L612.30,188.20 Z" fill="#fff" stroke="#000" stroke-width="0.9" stroke-linejoin="round"/>
<path d="M609.50,183.80 L615.10,183.80 L613.98,185.56 L610.62,185.56 Z" fill="#000"/>
<path d="M628.58,180.10 L634.18,180.10 L631.38,184.50 Z" fill="#fff" stroke="#000" stroke-width="0.9" stroke-linejoin="round"/>
<path d="M628.58,180.10 L634.18,180.10 L633.06,181.86 L629.70,181.86 Z" fill="#000"/>
<path d="M647.66,178.30 L653.26,178.30 L650.46,182.70 Z" fill="#fff" stroke="#000" stroke-width="0.9" stroke-linejoin="round"/>
<path d="M647.66,178.30 L653.26,178.30 L652.14,180.06 L648.78,180.06 Z" fill="#000"/>
<line x1="421.50" y1="6.10" x2="421.50" y2="201.60" stroke="#000" stroke-width="1.5" />
<rect x="530.80" y="11.30" width="139.90" height="35.00" fill="none" stroke="#000" stroke-width="1.3" />
<line x1="539.70" y1="21.30" x2="561.00" y2="21.30" stroke="#000" stroke-width="1.0" />
<rect x="547.3" y="17.4" width="6.4" height="7.4" fill="#fff" stroke="#000" stroke-width="1"/>
<rect x="547.3" y="17.4" width="6.4" height="3.9" fill="#000"/>
<line x1="539.70" y1="37.40" x2="561.00" y2="37.40" stroke="#000" stroke-width="1.0" />
<path d="M545.4,34.3 L554.8,34.3 L550.1,42.2 Z" fill="#fff" stroke="#000" stroke-width="1"/>
<path d="M545.4,34.3 L554.8,34.3 L552.9,37.4 L547.3,37.4 Z" fill="#000"/>
<text transform="translate(564.60,25.80) scale(1,1.06)" x="0" y="0" font-size="11.8" text-anchor="start" font-family="Liberation Sans, sans-serif" fill="#000" stroke="#000" stroke-width="0.2" >Coated CuT380</text>
<text transform="translate(564.60,40.30) scale(1,1.06)" x="0" y="0" font-size="11.8" text-anchor="start" font-family="Liberation Sans, sans-serif" fill="#000" stroke="#000" stroke-width="0.2" >Uncoated CuT380</text>
<text transform="translate(1.70,248.10) scale(1,1.07)" x="0" y="0" font-size="21" style="font-family:'Liberation Serif',serif">(c)</text>
<rect x="116.20" y="365.98" width="17.20" height="78.82" fill="#000" stroke="#000" stroke-width="0.9" />
<rect x="136.60" y="428.10" width="16.80" height="16.70" fill="#c4c4c4" stroke="#000" stroke-width="0.9" />
<rect x="218.00" y="257.09" width="17.20" height="187.71" fill="#000" stroke="#000" stroke-width="0.9" />
<rect x="238.30" y="420.35" width="17.60" height="24.45" fill="#c4c4c4" stroke="#000" stroke-width="0.9" />
<rect x="258.40" y="437.45" width="17.80" height="7.35" fill="#5f5f5f" stroke="#000" stroke-width="0.9" />
<line x1="125.00" y1="364.37" x2="125.00" y2="367.58" stroke="#222" stroke-width="1.2" />
<line x1="121.60" y1="364.37" x2="128.40" y2="364.37" stroke="#222" stroke-width="1.2" />
<line x1="121.60" y1="367.58" x2="128.40" y2="367.58" stroke="#222" stroke-width="1.2" />
<line x1="145.10" y1="422.36" x2="145.10" y2="434.51" stroke="#333" stroke-width="1.3" />
<line x1="142.20" y1="422.36" x2="148.00" y2="422.36" stroke="#333" stroke-width="1.3" />
<line x1="142.20" y1="434.51" x2="148.00" y2="434.51" stroke="#333" stroke-width="1.3" />
<line x1="226.80" y1="254.42" x2="226.80" y2="259.10" stroke="#222" stroke-width="1.2" />
<line x1="223.80" y1="254.42" x2="229.80" y2="254.42" stroke="#222" stroke-width="1.2" />
<line x1="223.80" y1="259.10" x2="229.80" y2="259.10" stroke="#222" stroke-width="1.2" />
<line x1="246.90" y1="411.00" x2="246.90" y2="430.64" stroke="#3a3a3a" stroke-width="1.3" />
<line x1="243.50" y1="411.00" x2="250.30" y2="411.00" stroke="#3a3a3a" stroke-width="1.3" />
<line x1="243.50" y1="430.64" x2="250.30" y2="430.64" stroke="#3a3a3a" stroke-width="1.3" />
<line x1="267.30" y1="435.98" x2="267.30" y2="438.79" stroke="#222" stroke-width="1.2" />
<line x1="264.80" y1="435.98" x2="269.80" y2="435.98" stroke="#222" stroke-width="1.2" />
<line x1="264.80" y1="438.79" x2="269.80" y2="438.79" stroke="#222" stroke-width="1.2" />
<text transform="translate(146.25,423.60) scale(1,1.06)" x="0" y="0" font-size="12" text-anchor="middle" font-family="Liberation Sans, sans-serif" fill="#8c8c8c" stroke="#8c8c8c" stroke-width="0.2" >**</text>
<text transform="translate(248.35,409.10) scale(1,1.06)" x="0" y="0" font-size="14" text-anchor="middle" font-family="Liberation Sans, sans-serif" fill="#8c8c8c" stroke="#8c8c8c" stroke-width="0.2" >**</text>
<text transform="translate(267.30,426.10) scale(1,1.06)" x="0" y="0" font-size="10.5" text-anchor="middle" font-family="Liberation Sans, sans-serif" fill="#444" stroke="#444" stroke-width="0.2" >++</text>
<text transform="translate(267.70,438.50) scale(1,1.06)" x="0" y="0" font-size="13.5" text-anchor="middle" font-family="Liberation Sans, sans-serif" fill="#8c8c8c" stroke="#8c8c8c" stroke-width="0.2" >**</text>
<rect x="57.20" y="244.40" width="273.50" height="200.40" fill="none" stroke="#000" stroke-width="1.5" fill="none"/>
<line x1="50.80" y1="444.80" x2="57.20" y2="444.80" stroke="#000" stroke-width="1.5" />
<text transform="translate(50.00,449.70) scale(1,1.06)" x="0" y="0" font-size="13.6" text-anchor="end" font-family="Liberation Sans, sans-serif" fill="#000" stroke="#000" stroke-width="0.2" >0</text>
<line x1="50.80" y1="378.00" x2="57.20" y2="378.00" stroke="#000" stroke-width="1.5" />
<text transform="translate(50.00,382.90) scale(1,1.06)" x="0" y="0" font-size="13.6" text-anchor="end" font-family="Liberation Sans, sans-serif" fill="#000" stroke="#000" stroke-width="0.2" >5</text>
<line x1="50.80" y1="311.20" x2="57.20" y2="311.20" stroke="#000" stroke-width="1.5" />
<text transform="translate(50.00,316.10) scale(1,1.06)" x="0" y="0" font-size="13.6" text-anchor="end" font-family="Liberation Sans, sans-serif" fill="#000" stroke="#000" stroke-width="0.2" >10</text>
<line x1="50.80" y1="244.40" x2="57.20" y2="244.40" stroke="#000" stroke-width="1.5" />
<text transform="translate(50.00,249.30) scale(1,1.06)" x="0" y="0" font-size="13.6" text-anchor="end" font-family="Liberation Sans, sans-serif" fill="#000" stroke="#000" stroke-width="0.2" >15</text>
<text transform="translate(135.10,464.40) scale(1,1.06)" x="0" y="0" font-size="14" text-anchor="middle" font-family="Liberation Sans, sans-serif" fill="#000" stroke="#000" stroke-width="0.2" >1</text>
<text transform="translate(246.40,464.40) scale(1,1.06)" x="0" y="0" font-size="14" text-anchor="middle" font-family="Liberation Sans, sans-serif" fill="#000" stroke="#000" stroke-width="0.2" >14</text>
<text transform="translate(188.80,475.90) scale(1,1.02)" x="0" y="0" font-size="14" text-anchor="middle" font-family="Liberation Sans, sans-serif" fill="#000" stroke="#000" stroke-width="0.2" >Time (day)</text>
<text transform="translate(25.30,346.20) rotate(-90) scale(1,1.06)" x="0" y="0" font-size="13.6" text-anchor="middle" font-family="Liberation Sans, sans-serif" fill="#000" stroke="#000" stroke-width="0.2" >Copper concentration (µg)</text>
<rect x="259.30" y="250.30" width="64.30" height="49.70" fill="none" stroke="#000" stroke-width="1.3" />
<rect x="264.40" y="255.90" width="9.70" height="8.60" fill="#000" stroke="#000" stroke-width="0.9" />
<rect x="264.40" y="271.40" width="9.70" height="8.50" fill="#d8d8d8" stroke="#222" stroke-width="0.9" />
<rect x="264.40" y="287.20" width="9.70" height="8.50" fill="#808080" stroke="#222" stroke-width="0.9" />
<text transform="translate(280.00,264.50) scale(1,1.06)" x="0" y="0" font-size="11.5" text-anchor="start" font-family="Liberation Sans, sans-serif" fill="#000" stroke="#000" stroke-width="0.2" >Control</text>
<text transform="translate(280.20,279.50) scale(1,1.06)" x="0" y="0" font-size="11.4" text-anchor="start" font-family="Liberation Sans, sans-serif" fill="#000" stroke="#000" stroke-width="0.2" >PU 10<tspan font-size="8" dy="-4">-3</tspan></text>
<text transform="translate(280.20,294.60) scale(1,1.06)" x="0" y="0" font-size="11.4" text-anchor="start" font-family="Liberation Sans, sans-serif" fill="#000" stroke="#000" stroke-width="0.2" >PU 10<tspan font-size="8" dy="-4">-3</tspan></text>
<text transform="translate(349.20,250.10) scale(1,1.07)" x="0" y="0" font-size="21" style="font-family:'Liberation Serif',serif">(d)</text>
<rect x="432.80" y="361.40" width="51.80" height="83.00" fill="#ffadb3" stroke="#3a3a3a" stroke-width="1.0" />
<rect x="484.60" y="439.10" width="51.80" height="5.30" fill="#ff0000" stroke="#3a3a3a" stroke-width="1.0" />
<rect x="560.70" y="301.90" width="51.40" height="142.50" fill="#ffadb3" stroke="#3a3a3a" stroke-width="1.0" />
<rect x="612.10" y="434.10" width="51.80" height="10.30" fill="#ff0000" stroke="#3a3a3a" stroke-width="1.0" />
<line x1="459.10" y1="346.40" x2="459.10" y2="377.40" stroke="#222" stroke-width="1.0" />
<line x1="456.60" y1="346.40" x2="461.60" y2="346.40" stroke="#222" stroke-width="1.0" />
<line x1="456.60" y1="377.40" x2="461.60" y2="377.40" stroke="#222" stroke-width="1.0" />
<line x1="511.80" y1="437.00" x2="511.80" y2="441.20" stroke="#222" stroke-width="1.0" />
<line x1="509.50" y1="437.00" x2="514.10" y2="437.00" stroke="#222" stroke-width="1.0" />
<line x1="509.50" y1="441.20" x2="514.10" y2="441.20" stroke="#222" stroke-width="1.0" />
<line x1="586.80" y1="279.60" x2="586.80" y2="324.90" stroke="#222" stroke-width="1.0" />
<line x1="584.30" y1="279.60" x2="589.30" y2="279.60" stroke="#222" stroke-width="1.0" />
<line x1="584.30" y1="324.90" x2="589.30" y2="324.90" stroke="#222" stroke-width="1.0" />
<line x1="638.40" y1="431.40" x2="638.40" y2="438.00" stroke="#222" stroke-width="1.0" />
<line x1="636.10" y1="431.40" x2="640.70" y2="431.40" stroke="#222" stroke-width="1.0" />
<line x1="636.10" y1="438.00" x2="640.70" y2="438.00" stroke="#222" stroke-width="1.0" />
<rect x="421.40" y="244.60" width="254.80" height="199.80" fill="none" stroke="#000" stroke-width="1.5" />
<line x1="416.00" y1="444.40" x2="421.40" y2="444.40" stroke="#000" stroke-width="1.5" />
<text transform="translate(407.40,449.30) scale(1,1.06)" x="0" y="0" font-size="14" text-anchor="end" font-family="Liberation Sans, sans-serif" fill="#000" stroke="#000" stroke-width="0.2" >0</text>
<line x1="416.00" y1="411.30" x2="421.40" y2="411.30" stroke="#000" stroke-width="1.5" />
<text transform="translate(407.40,415.00) scale(1,1.06)" x="0" y="0" font-size="14" text-anchor="end" font-family="Liberation Sans, sans-serif" fill="#000" stroke="#000" stroke-width="0.2" >50</text>
<line x1="416.00" y1="377.90" x2="421.40" y2="377.90" stroke="#000" stroke-width="1.5" />
<text transform="translate(407.40,382.30) scale(1,1.06)" x="0" y="0" font-size="14" text-anchor="end" font-family="Liberation Sans, sans-serif" fill="#000" stroke="#000" stroke-width="0.2" >100</text>
<line x1="416.00" y1="345.40" x2="421.40" y2="345.40" stroke="#000" stroke-width="1.5" />
<text transform="translate(407.40,350.30) scale(1,1.06)" x="0" y="0" font-size="14" text-anchor="end" font-family="Liberation Sans, sans-serif" fill="#000" stroke="#000" stroke-width="0.2" >150</text>
<line x1="416.00" y1="312.30" x2="421.40" y2="312.30" stroke="#000" stroke-width="1.5" />
<text transform="translate(407.40,318.10) scale(1,1.06)" x="0" y="0" font-size="14" text-anchor="end" font-family="Liberation Sans, sans-serif" fill="#000" stroke="#000" stroke-width="0.2" >200</text>
<line x1="416.00" y1="279.70" x2="421.40" y2="279.70" stroke="#000" stroke-width="1.5" />
<text transform="translate(407.40,285.35) scale(1,1.06)" x="0" y="0" font-size="14" text-anchor="end" font-family="Liberation Sans, sans-serif" fill="#000" stroke="#000" stroke-width="0.2" >250</text>
<line x1="416.00" y1="244.60" x2="421.40" y2="244.60" stroke="#000" stroke-width="1.5" />
<text transform="translate(407.40,252.20) scale(1,1.06)" x="0" y="0" font-size="14" text-anchor="end" font-family="Liberation Sans, sans-serif" fill="#000" stroke="#000" stroke-width="0.2" >300</text>
<text transform="translate(486.10,462.90) scale(1,1.06)" x="0" y="0" font-size="14" text-anchor="middle" font-family="Liberation Sans, sans-serif" fill="#000" stroke="#000" stroke-width="0.2" >3</text>
<text transform="translate(613.20,462.90) scale(1,1.06)" x="0" y="0" font-size="14" text-anchor="middle" font-family="Liberation Sans, sans-serif" fill="#000" stroke="#000" stroke-width="0.2" >15</text>
<text transform="translate(542.70,475.90) scale(1,1.02)" x="0" y="0" font-size="14" text-anchor="middle" font-family="Liberation Sans, sans-serif" fill="#000" stroke="#000" stroke-width="0.2" >Time (day)</text>
<text transform="translate(375.40,352.40) rotate(-90) scale(1,1.06)" x="0" y="0" font-size="13.85" text-anchor="middle" font-family="Liberation Sans, sans-serif" fill="#000" stroke="#000" stroke-width="0.2" >Copper release (µg cm<tspan font-size="9" dy="-5">-2</tspan><tspan dy="5">)</tspan></text>
<rect x="483.40" y="250.00" width="186.90" height="23.30" fill="none" stroke="#000" stroke-width="1.2" />
<rect x="488.20" y="258.00" width="9.20" height="8.60" fill="#ffadb3" stroke="#222" stroke-width="0.9" />
<rect x="550.00" y="258.50" width="9.20" height="8.60" fill="#ff0000" stroke="#222" stroke-width="0.9" />
<text transform="translate(500.40,266.60) scale(1,1.06)" x="0" y="0" font-size="11.8" text-anchor="start" font-family="Liberation Sans, sans-serif" fill="#000" stroke="#000" stroke-width="0.2" >Bare Cu</text>
<text transform="translate(561.60,266.60) scale(1,1.06)" x="0" y="0" font-size="11.8" text-anchor="start" font-family="Liberation Sans, sans-serif" fill="#000" stroke="#000" stroke-width="0.2" >polyCaryCu-400mV</text>
</svg>
</body></html>
